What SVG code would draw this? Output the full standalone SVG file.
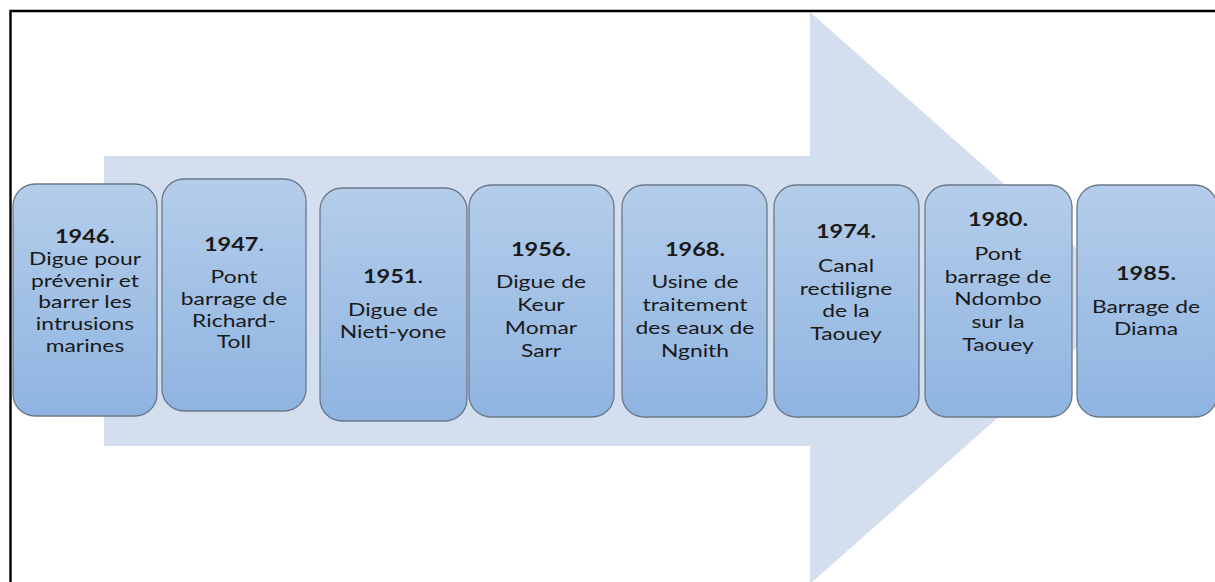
<svg xmlns="http://www.w3.org/2000/svg" width="1215" height="582" viewBox="0 0 1215 582">
<defs>
<linearGradient id="bg" x1="0" y1="0" x2="0" y2="1">
<stop offset="0" stop-color="#b4cdea"/>
<stop offset="1" stop-color="#8fb4e1"/>
</linearGradient>
<style>
.box{fill:url(#bg);stroke:#6a7989;stroke-width:1.3}
.t{font-family:Lato,"Liberation Sans",sans-serif;font-size:18px;fill:#1a1a1a;text-anchor:middle}
.y{font-weight:bold;font-size:18.5px}
.n{font-weight:normal}
</style>
</defs>
<rect width="1215" height="582" fill="#ffffff"/>
<polygon points="104,156 810,156 810,12 1133,298 810,584 810,446 104,446" fill="#d3deef"/>
<path d="M10.5,582 V11 H1215" fill="none" stroke="#000" stroke-width="2.4"/>
<g id="connectors"></g>
<g id="n1946">
<rect class="box" x="13" y="184" width="144" height="232" rx="22"/>
<g class="t" transform="translate(85 0) scale(1.27 1)">
<text x="0" y="243"><tspan class="y">1946</tspan><tspan class="y n">.</tspan></text>
<text x="0" y="265">Digue pour</text>
<text x="0" y="287">prévenir et</text>
<text x="0" y="308">barrer les</text>
<text x="0" y="330">intrusions</text>
<text x="0" y="352">marines</text>
</g>
</g>
<g id="n1947">
<rect class="box" x="162" y="179" width="144" height="232" rx="22"/>
<g class="t" transform="translate(234 0) scale(1.27 1)">
<text x="0" y="251"><tspan class="y">1947</tspan><tspan class="y n">.</tspan></text>
<text x="0" y="283">Pont</text>
<text x="0" y="305">barrage de</text>
<text x="0" y="327">Richard-</text>
<text x="0" y="348">Toll</text>
</g>
</g>
<g id="n1951">
<rect class="box" x="320" y="188" width="147" height="233" rx="22"/>
<g class="t" transform="translate(393 0) scale(1.27 1)">
<text x="0" y="283"><tspan class="y">1951</tspan><tspan class="y n">.</tspan></text>
<text x="0" y="316">Digue de</text>
<text x="0" y="338">Nieti-yone</text>
</g>
</g>
<g id="n1956">
<rect class="box" x="469" y="185" width="145" height="232" rx="22"/>
<g class="t" transform="translate(541 0) scale(1.27 1)">
<text x="0" y="256" class="y">1956.</text>
<text x="0" y="288">Digue de</text>
<text x="0" y="311">Keur</text>
<text x="0" y="334">Momar</text>
<text x="0" y="357">Sarr</text>
</g>
</g>
<g id="n1968">
<rect class="box" x="622" y="185" width="145" height="232" rx="22"/>
<g class="t" transform="translate(695 0) scale(1.27 1)">
<text x="0" y="256" class="y">1968.</text>
<text x="0" y="288">Usine de</text>
<text x="0" y="311">traitement</text>
<text x="0" y="334">des eaux de</text>
<text x="0" y="357">Ngnith</text>
</g>
</g>
<g id="n1974">
<rect class="box" x="774" y="185" width="145" height="232" rx="22"/>
<g class="t" transform="translate(846 0) scale(1.27 1)">
<text x="0" y="238" class="y">1974.</text>
<text x="0" y="272">Canal</text>
<text x="0" y="295">rectiligne</text>
<text x="0" y="317">de la</text>
<text x="0" y="340">Taouey</text>
</g>
</g>
<g id="n1980">
<rect class="box" x="925" y="185" width="147" height="232" rx="22"/>
<g class="t" transform="translate(998 0) scale(1.27 1)">
<text x="0" y="226" class="y">1980.</text>
<text x="0" y="260">Pont</text>
<text x="0" y="283">barrage de</text>
<text x="0" y="305">Ndombo</text>
<text x="0" y="328">sur la</text>
<text x="0" y="351">Taouey</text>
</g>
</g>
<g id="n1985">
<rect class="box" x="1077" y="185" width="140" height="232" rx="22"/>
<g class="t" transform="translate(1146 0) scale(1.27 1)">
<text x="0" y="280" class="y">1985.</text>
<text x="0" y="313">Barrage de</text>
<text x="0" y="335">Diama</text>
</g>
</g>
</svg>
